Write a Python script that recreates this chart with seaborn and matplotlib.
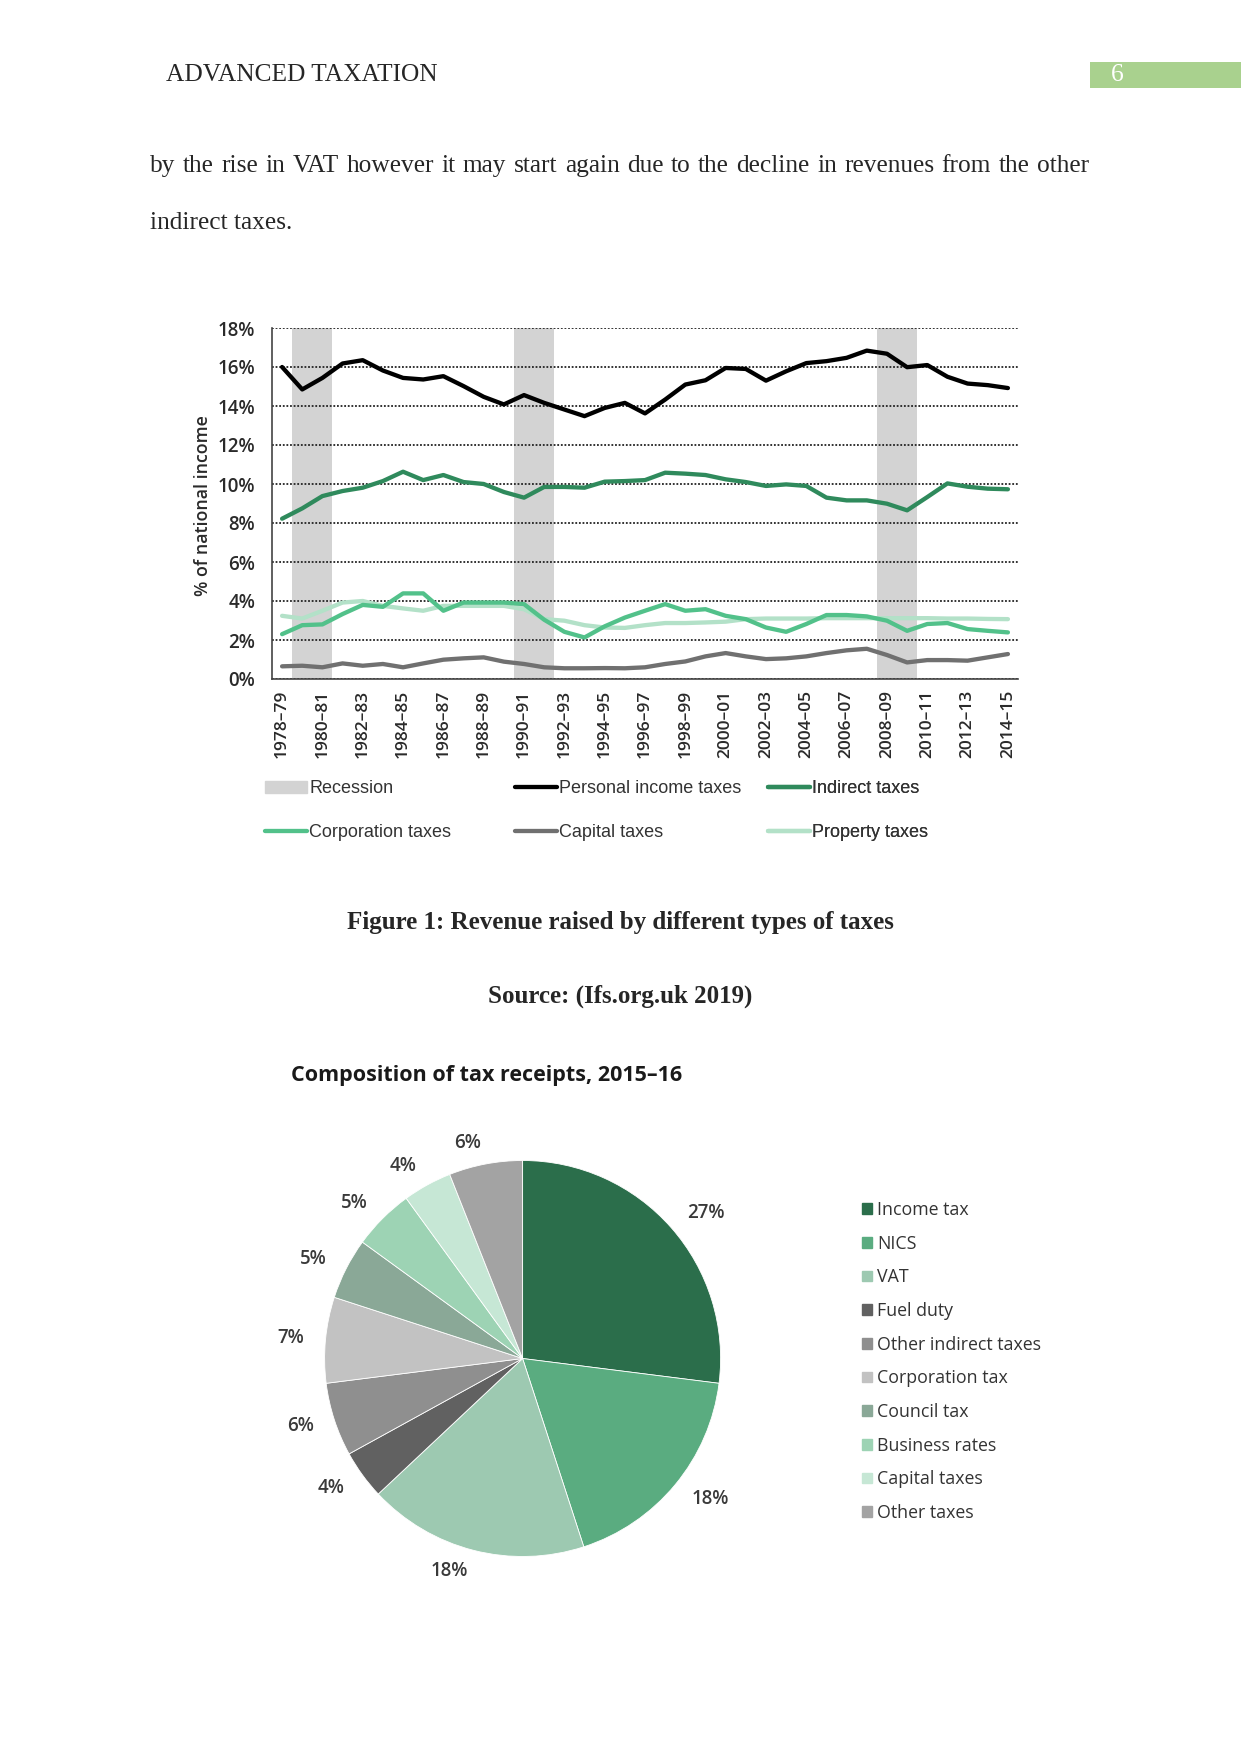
import numpy as np
import pandas as pd
import seaborn as sns
import matplotlib.pyplot as plt
from matplotlib.patches import Patch, Rectangle
from matplotlib.lines import Line2D
from matplotlib import font_manager

# ---- data: revenue as % of national income ----
years = [f"{y}\u2013{(y + 1) % 100:02d}" for y in range(1978, 2015)]

personal = [16.0, 14.85, 15.44, 16.18, 16.35, 15.82, 15.44, 15.36, 15.53, 15.02,
            14.47, 14.08, 14.56, 14.16, 13.82, 13.48, 13.9, 14.16, 13.62, 14.33,
            15.1, 15.32, 15.95, 15.9, 15.3, 15.78, 16.2, 16.3, 16.47, 16.84,
            16.68, 15.99, 16.1, 15.5, 15.15, 15.07, 14.92]
indirect = [8.22, 8.75, 9.38, 9.64, 9.81, 10.15, 10.63, 10.2, 10.46, 10.1,
            10.0, 9.59, 9.3, 9.85, 9.85, 9.81, 10.12, 10.15, 10.2, 10.58,
            10.53, 10.46, 10.24, 10.1, 9.9, 9.98, 9.9, 9.3, 9.16, 9.16,
            8.99, 8.65, 9.33, 10.03, 9.86, 9.76, 9.73]
corporation = [2.3, 2.76, 2.8, 3.33, 3.8, 3.7, 4.39, 4.39, 3.5, 3.92,
               3.92, 3.92, 3.84, 3.04, 2.42, 2.13, 2.7, 3.15, 3.5, 3.84,
               3.5, 3.58, 3.24, 3.07, 2.64, 2.42, 2.82, 3.28, 3.28, 3.21,
               2.99, 2.47, 2.82, 2.87, 2.56, 2.47, 2.39]
capital = [0.65, 0.68, 0.6, 0.8, 0.68, 0.77, 0.6, 0.8, 0.99, 1.06,
           1.11, 0.89, 0.77, 0.6, 0.55, 0.55, 0.56, 0.55, 0.6, 0.77,
           0.9, 1.16, 1.33, 1.16, 1.02, 1.06, 1.16, 1.33, 1.47, 1.55,
           1.23, 0.85, 0.97, 0.97, 0.94, 1.11, 1.28]
prop = [3.24, 3.1, 3.5, 3.92, 4.0, 3.75, 3.62, 3.5, 3.75, 3.75,
        3.75, 3.75, 3.58, 3.07, 2.99, 2.76, 2.64, 2.62, 2.76, 2.87,
        2.87, 2.9, 2.94, 3.07, 3.1, 3.1, 3.1, 3.12, 3.12, 3.12,
        3.12, 3.12, 3.12, 3.1, 3.1, 3.08, 3.07]
recessions = [("1979\u201380", "1980\u201381"),
              ("1990\u201391", "1991\u201392"),
              ("2008\u201309", "2009\u201310")]

# ---- data: composition of tax receipts 2015-16 ----
pie_labels = ["Income tax", "NICS", "VAT", "Fuel duty", "Other indirect taxes",
              "Corporation tax", "Council tax", "Business rates", "Capital taxes",
              "Other taxes"]
pie_values = [27, 18, 18, 4, 6, 7, 5, 5, 4, 6]
pie_colors = ["#2b6e4b", "#5aac80", "#9dc9b1", "#616161", "#8f8f8f",
              "#c2c2c2", "#8aa897", "#9dd3b4", "#c6e7d5", "#a3a3a3"]

series_names = ["Property taxes", "Personal income taxes", "Indirect taxes",
                "Corporation taxes", "Capital taxes"]
series_data = [prop, personal, indirect, corporation, capital]
line_colors = {"Personal income taxes": "#000000", "Indirect taxes": "#2f8a5c",
               "Corporation taxes": "#52c18a", "Capital taxes": "#707070",
               "Property taxes": "#b3e1c8"}

df = pd.concat([pd.DataFrame({"pos": np.arange(len(years)), "value": v, "series": n})
                for n, v in zip(series_names, series_data)], ignore_index=True)

W, H = 1241, 1754
def fx(p): return p / W
def fy(p): return 1 - p / H

sns.set_style("white")
names = {f.name for f in font_manager.fontManager.ttflist}
narrow = "Liberation Sans Narrow" if "Liberation Sans Narrow" in names else "Liberation Sans"
plt.rcParams["font.family"] = ["Open Sans", "DejaVu Sans"]

fig = plt.figure(figsize=(W / 100, H / 100), dpi=100)
renderer = fig.canvas.get_renderer()

# page header and body text
serif = ["Liberation Serif", "DejaVu Serif"]
fig.text(fx(166), fy(75), "ADVANCED TAXATION", family=serif, fontsize=18.3, va="center")
fig.patches.append(Rectangle((fx(1090), fy(88)), fx(151), 26 / H, transform=fig.transFigure,
                             color="#a9d18e", lw=0))
fig.text(fx(1111), fy(75), "6", family=serif, fontsize=18.3, va="center", color="white")

# justified first line
line1 = "by the rise in VAT however it may start again due to the decline in revenues from the other".split()
word_texts = [fig.text(0, fy(166), w, family=serif, fontsize=18.3, va="center") for w in line1]
widths = [t.get_window_extent(renderer).width for t in word_texts]
gap = (1089 - 150 - sum(widths)) / (len(line1) - 1)
xpos = 150
for t, wd in zip(word_texts, widths):
    t.set_x(fx(xpos))
    xpos += wd + gap
fig.text(fx(150), fy(223), "indirect taxes.", family=serif, fontsize=18.3, va="center")

# ---- line chart ----
ax = fig.add_axes([fx(272), fy(679), 746 / W, 351 / H])
for a, b in recessions:
    ax.axvspan(years.index(a) - 0.5, years.index(b) + 0.5, color="#d3d3d3", lw=0, zorder=0)
sns.lineplot(data=df, x="pos", y="value", hue="series", hue_order=series_names,
             palette=line_colors, linewidth=3.1, legend=False, ax=ax)
ax.set_xlim(-0.5, len(years) - 0.5)
ax.set_ylim(0, 18)
ax.set_yticks(range(0, 19, 2))
ax.set_yticklabels([f"{v}%" for v in range(0, 19, 2)], fontsize=13.5, color="#2a2a2a",
                   weight="semibold")
ax.set_xticks(range(0, len(years), 2))
ax.set_xticklabels(years[::2], rotation=90, fontsize=12.5, color="#2a2a2a", weight="semibold")
ax.set_xticks(np.arange(-0.5, len(years), 1), minor=True)
ax.tick_params(axis="x", which="major", length=0, pad=8)
ax.tick_params(axis="x", which="minor", length=6, width=1.2, color="#444444", direction="out")
ax.tick_params(axis="y", length=4, width=1.2, color="#444444", pad=8)
ax.set_axisbelow(True)
ax.yaxis.grid(True, linestyle=(0, (1, 1)), color="#222222", lw=1.3)
ax.xaxis.grid(False)
for s in ["top", "right"]:
    ax.spines[s].set_visible(False)
for s in ["left", "bottom"]:
    ax.spines[s].set_color("#444444")
    ax.spines[s].set_linewidth(1.2)
ax.set_xlabel("")
ax.set_ylabel("")
fig.text(fx(203), fy(506), "% of national income", rotation=90, fontsize=12.8,
         va="center", ha="center", color="#2a2a2a", weight="semibold")

leg_cols = [
    [Patch(color="#d3d3d3", label="Recession"),
     Line2D([], [], color=line_colors["Corporation taxes"], lw=3.1, label="Corporation taxes")],
    [Line2D([], [], color=line_colors["Personal income taxes"], lw=3.1, label="Personal income taxes"),
     Line2D([], [], color=line_colors["Capital taxes"], lw=3.1, label="Capital taxes")],
    [Line2D([], [], color=line_colors["Indirect taxes"], lw=3.1, label="Indirect taxes"),
     Line2D([], [], color=line_colors["Property taxes"], lw=3.1, label="Property taxes")],
]
for x0, hs in zip([265, 515, 768], leg_cols):
    lg = ax.legend(handles=hs, loc="upper left", bbox_to_anchor=(fx(x0), fy(780)),
                   bbox_transform=fig.transFigure, frameon=False,
                   handlelength=2.3, handleheight=0.65, handletextpad=0.15, labelspacing=1.5,
                   borderpad=0, borderaxespad=0, prop={"family": narrow, "size": 13})
    for t in lg.get_texts():
        t.set_color("#333333")
    ax.add_artist(lg)

fig.text(fx(620), fy(922), "Figure 1: Revenue raised by different types of taxes",
         family=serif, fontsize=18, weight="bold", ha="center", va="center")
fig.text(fx(620), fy(996), "Source: (Ifs.org.uk 2019)",
         family=serif, fontsize=18, weight="bold", ha="center", va="center")

# ---- pie chart ----
fig.text(fx(291), fy(1075), "Composition of tax receipts, 2015\u201316", fontsize=15.5,
         weight="bold", va="center", color="#1a1a1a")
r = 198
ax2 = fig.add_axes([fx(522.6 - 1.5 * r), fy(1358.5 + 1.5 * r), 3 * r / W, 3 * r / H])
wedges, texts = ax2.pie(pie_values, colors=pie_colors, startangle=90, counterclock=False,
                        labels=[f"{v}%" for v in pie_values], labeldistance=1.11,
                        wedgeprops=dict(edgecolor="white", linewidth=0.6),
                        textprops=dict(fontsize=13.5, color="#3a3a3a", weight="semibold"))
ax2.set_xlim(-1.5, 1.5)
ax2.set_ylim(-1.5, 1.5)
ax2.set_aspect("equal")
ax2.axis("off")

pie_handles = [Patch(color=c, label=l) for c, l in zip(pie_colors, pie_labels)]
lg2 = fig.legend(handles=pie_handles, loc="upper left", bbox_to_anchor=(fx(862), fy(1201)),
                 frameon=False, fontsize=12.8, handlelength=0.55, handleheight=0.55,
                 handletextpad=0.3, labelspacing=0.88, borderpad=0, borderaxespad=0)
for t in lg2.get_texts():
    t.set_color("#333333")

plt.savefig("out.png", dpi=100)
